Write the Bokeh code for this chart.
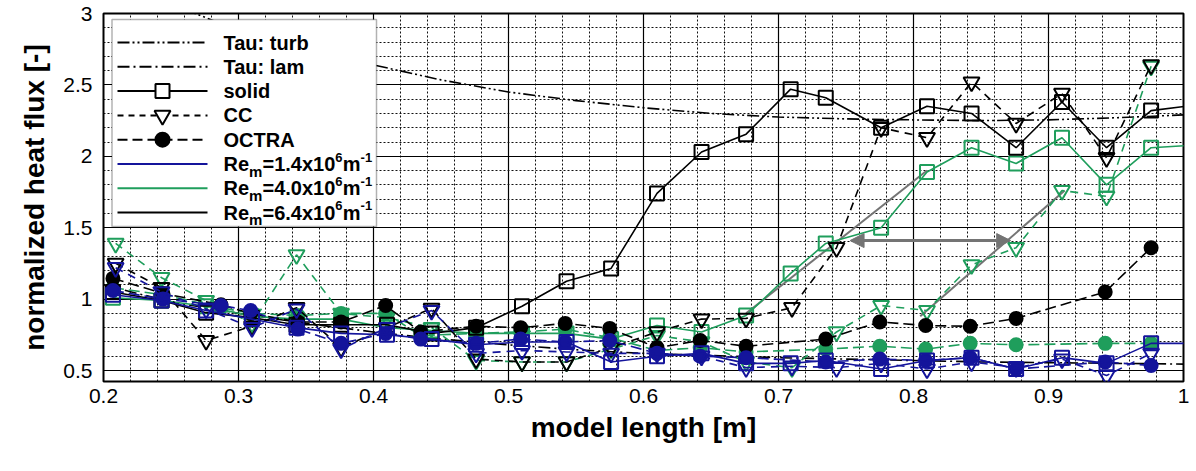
from bokeh.plotting import figure
from bokeh.models import (Range1d, FixedTicker, CustomJSTickFormatter, Label,
                          BoxAnnotation, Arrow, NormalHead)
from bokeh.embed import file_html
from bokeh.resources import INLINE

# ---------------------------------------------------------------- data
# sensor stations along the model [m]
x_solid = [0.207, 0.243, 0.276, 0.31, 0.343, 0.376, 0.41, 0.443, 0.476, 0.51,
           0.543, 0.576, 0.61, 0.643, 0.676, 0.709, 0.735, 0.776, 0.81, 0.843,
           0.876, 0.91, 0.943, 0.976, 1.01]
x_cc = [0.209, 0.243, 0.276, 0.31, 0.343, 0.376, 0.41, 0.443, 0.476, 0.51,
        0.543, 0.576, 0.61, 0.643, 0.676, 0.71, 0.743, 0.776, 0.81, 0.843,
        0.876, 0.91, 0.943, 0.976]
x_octra = [0.207, 0.244, 0.287, 0.309, 0.344, 0.376, 0.409, 0.435, 0.476, 0.509,
           0.542, 0.575, 0.61, 0.642, 0.676, 0.735, 0.775, 0.809, 0.842, 0.876,
           0.942, 0.976]

# solid wall
solid_re14 = [1.03, 0.99, 0.92, 0.86, 0.80, 0.76, 0.75, 0.72, 0.68, 0.70, 0.70, 0.56,
              0.60, 0.62, 0.55, 0.55, 0.57, 0.51, 0.57, 0.59, 0.51, 0.59, 0.55, 0.69, 0.69]
solid_re40 = [1.01, 0.99, 0.95, 0.88, 0.86, 0.86, 0.80, 0.78, 0.76, 0.76, 0.76, 0.72,
              0.815, 0.77, 0.885, 1.18, 1.39, 1.50, 1.89, 2.06, 1.95, 2.13, 1.80, 2.06, 2.08]
solid_re64 = [1.05, 0.99, 0.905, 0.87, 0.82, 0.82, 0.82, 0.76, 0.80, 0.95, 1.125, 1.215,
              1.74, 2.03, 2.155, 2.47, 2.41, 2.20, 2.35, 2.30, 2.06, 2.38, 2.06, 2.32, 2.36]

# CC
cc_re14 = [1.22, 1.05, 0.93, 0.80, 0.93, 0.65, 0.80, 0.92, 0.62, 0.64, 0.63, 0.62,
           0.62, 0.60, 0.52, 0.53, 0.52, 0.55, 0.51, 0.56, 0.52, 0.58, 0.465, 0.62]
cc_re40 = [1.39, 1.15, 0.99, 0.83, 1.31, 0.90, 0.87, 0.80, 0.57, 0.56, 0.56, 0.65,
           0.745, 0.70, 0.56, 0.52, 0.77, 0.955, 0.92, 1.24, 1.36, 1.76, 1.72, 2.63]
cc_re64 = [1.25, 1.08, 0.71, 0.81, 0.94, 0.66, 0.80, 0.935, 0.58, 0.56, 0.56, 0.66,
           0.77, 0.86, 0.865, 0.94, 1.36, 2.20, 2.13, 2.52, 2.23, 2.44, 1.99, 2.64]

# OCTRA
octra_re14 = [1.06, 1.00, 0.955, 0.92, 0.79, 0.69, 0.76, 0.72, 0.69, 0.72, 0.70,
              0.71, 0.62, 0.60, 0.59, 0.56, 0.58, 0.57, 0.59, 0.51, 0.56, 0.535]
octra_re40 = [1.08, 1.03, 0.94, 0.90, 0.885, 0.90, 0.90, 0.745, 0.76, 0.77, 0.79,
              0.73, 0.64, 0.66, 0.63, 0.65, 0.67, 0.65, 0.69, 0.68, 0.69, 0.69]
octra_re64 = [1.145, 1.04, 0.96, 0.90, 0.84, 0.84, 0.955, 0.77, 0.81, 0.80, 0.83,
              0.795, 0.66, 0.71, 0.67, 0.72, 0.84, 0.815, 0.81, 0.865, 1.05, 1.36]

# Tau reference solutions
x_tau_turb = [0.26, 0.30, 0.35, 0.40, 0.45, 0.50, 0.55, 0.60, 0.65, 0.70, 0.75,
              0.80, 0.85, 0.90, 0.95, 1.00]
tau_turb = [3.03, 2.88, 2.75, 2.64, 2.535, 2.45, 2.39, 2.34, 2.30, 2.275, 2.262,
            2.255, 2.25, 2.255, 2.27, 2.29]
x_tau_lam = [0.20, 0.25, 0.30, 0.35, 0.40, 0.45, 0.50, 0.55, 0.60, 0.65, 0.70,
             0.75, 0.80, 0.85, 0.90, 0.95, 1.00]
tau_lam = [1.10, 0.98, 0.90, 0.83, 0.77, 0.72, 0.68, 0.645, 0.62, 0.605, 0.59,
           0.58, 0.57, 0.56, 0.555, 0.55, 0.545]

# transition onset trend lines and shift arrow
trend_a_x = [0.676, 0.81]
trend_a_y = [0.90, 1.90]
trend_b_x = [0.805, 0.912]
trend_b_y = [0.88, 1.76]
shift_x = [0.753, 0.872]
shift_y = 1.41

x_ticks = [0.2, 0.3, 0.4, 0.5, 0.6, 0.7, 0.8, 0.9, 1.0]
y_ticks = [0.5, 1.0, 1.5, 2.0, 2.5, 3.0]

# ---------------------------------------------------------------- style
BLUE = "#14149b"
GREEN = "#1f9e5c"
BLACK = "#000000"
GRAY = "#747474"
FONT = "Liberation Sans"

W, H = 1196, 471
BL, BR, BT, BB = 103, 13, 13, 90
FW, FH = W - BL - BR, H - BT - BB
X0, X1 = 0.2, 1.0
Y0, Y1 = 0.423, 3.0

p = figure(width=W, height=H, x_range=Range1d(X0, X1), y_range=Range1d(Y0, Y1),
           output_backend="svg", toolbar_location=None,
           min_border_left=BL, min_border_right=BR, min_border_top=BT,
           min_border_bottom=BB)
p.background_fill_color = "white"
p.border_fill_color = "white"
p.outline_line_color = "black"
p.outline_line_width = 2

xt = FixedTicker(ticks=x_ticks,
                 minor_ticks=[round(0.2 + 0.02 * i, 2) for i in range(41)])
yt = FixedTicker(ticks=y_ticks,
                 minor_ticks=[round(0.4 + 0.1 * i, 1) for i in range(27)])
fmt = CustomJSTickFormatter(code="return String(Math.round(tick * 10) / 10);")
p.xaxis.ticker = xt
p.yaxis.ticker = yt
p.xgrid.ticker = xt
p.ygrid.ticker = yt
p.xaxis.formatter = fmt
p.yaxis.formatter = fmt

for ax in (p.xaxis, p.yaxis):
    ax.axis_line_color = None
    ax.major_tick_in = 0
    ax.major_tick_out = 0
    ax.minor_tick_in = 0
    ax.minor_tick_out = 0
    ax.major_label_text_font = FONT
    ax.major_label_text_font_size = "21px"
    ax.major_label_text_color = "black"
    ax.axis_label_text_font = FONT
    ax.axis_label_text_font_style = "bold"
    ax.axis_label_text_font_size = "28px"
    ax.axis_label_text_color = "black"
p.xaxis.axis_label = "model length [m]"
p.yaxis.axis_label = "normalized heat flux [-]"
p.xaxis.major_label_standoff = 7
p.yaxis.major_label_standoff = 11
p.xaxis.axis_label_standoff = 6
p.yaxis.axis_label_standoff = 10

for g in (p.xgrid, p.ygrid):
    g.grid_line_color = "black"
    g.grid_line_width = 1.2
    g.grid_line_alpha = 1
    g.minor_grid_line_color = "#111111"
    g.minor_grid_line_dash = "2 2"
    g.minor_grid_line_width = 1

TURB_DASH = "12 3 2 3 2 3"
LAM_DASH = "12 4 2 4"
CC_DASH = "8 6"
OCTRA_DASH = "11 5"

# ---------------------------------------------------------------- curves
p.line(x_tau_turb, tau_turb, line_color=BLACK, line_width=1.6, line_dash=TURB_DASH)
p.line(x_tau_lam, tau_lam, line_color=BLACK, line_width=1.6, line_dash=LAM_DASH)

p.line(trend_a_x, trend_a_y, line_color=GRAY, line_width=2)
p.line(trend_b_x, trend_b_y, line_color=GRAY, line_width=2)
p.add_layout(Arrow(x_start=shift_x[0], y_start=shift_y, x_end=shift_x[1], y_end=shift_y,
                   line_color=GRAY, line_width=3,
                   start=NormalHead(size=14, fill_color=GRAY, line_color=GRAY),
                   end=NormalHead(size=14, fill_color=GRAY, line_color=GRAY)))


def series(x, y, color, dash, marker, filled):
    p.line(x, y, line_color=color, line_width=1.6, line_dash=dash)
    if marker == "square":
        size = 14
    elif marker == "inverted_triangle":
        size = 16
    else:
        size = 13
    p.scatter(x, y, marker=marker, size=size, line_color=color, line_width=2,
              fill_color=color if filled else None)


for color, sol, cc, octra in ((GREEN, solid_re40, cc_re40, octra_re40),
                              (BLACK, solid_re64, cc_re64, octra_re64),
                              (BLUE, solid_re14, cc_re14, octra_re14)):
    series(x_octra, octra, color, OCTRA_DASH, "circle", True)
    series(x_cc, cc, color, CC_DASH, "inverted_triangle", False)
    series(x_solid, sol, color, "solid", "square", False)

# ---------------------------------------------------------------- legend


def fx(px):
    return X0 + px * (X1 - X0) / FW


def fy(py):
    return Y1 - py * (Y1 - Y0) / FH


p.add_layout(BoxAnnotation(left=fx(8.5), right=fx(273), top=fy(6), bottom=fy(213),
                           fill_color="white", fill_alpha=1, line_color="black",
                           line_width=1.5, level="annotation"))

rows = [fy(29 + i * 24.3) for i in range(8)]
sx0, sx1, smid, tx = fx(14), fx(104), fx(59), fx(120)


def sample(y, color, dash, marker=None, filled=False):
    p.line([sx0, sx1], [y, y], line_color=color, line_width=2, line_dash=dash,
           level="overlay")
    if marker:
        size = 16 if marker == "inverted_triangle" else 14
        p.scatter([smid], [y], marker=marker, size=size, line_color=color,
                  line_width=2, fill_color=color if filled else "white",
                  level="overlay")


def text(y, s, dx=0, dy=0, size=20):
    p.add_layout(Label(x=tx, y=y, x_offset=dx, y_offset=dy, text=s,
                       text_font=FONT, text_font_style="bold",
                       text_font_size=f"{size}px", text_baseline="middle",
                       text_align="left", text_color="black", level="overlay"))


sample(rows[0], BLACK, TURB_DASH)
text(rows[0], "Tau: turb")
sample(rows[1], BLACK, LAM_DASH)
text(rows[1], "Tau: lam")
sample(rows[2], BLACK, "solid", "square")
text(rows[2], "solid")
sample(rows[3], BLACK, "6 5", "inverted_triangle")
text(rows[3], "CC")
sample(rows[4], BLACK, "10 5", "circle", True)
text(rows[4], "OCTRA")

re_labels = ["1.4", "4.0", "6.4"]
for row, color, val in zip(rows[5:], (BLUE, GREEN, BLACK), re_labels):
    sample(row, color, "solid")
    text(row, "Re")
    text(row, "m", dx=25.6, dy=-7, size=15)
    text(row, "=" + val + "x10", dx=39.0)
    text(row, "6", dx=39.0 + 72.8, dy=7, size=13)
    text(row, "m", dx=39.0 + 72.8 + 7.5)
    text(row, "-1", dx=39.0 + 72.8 + 7.5 + 17.8, dy=7, size=13)

open("out.html", "w").write(file_html(p, INLINE))
